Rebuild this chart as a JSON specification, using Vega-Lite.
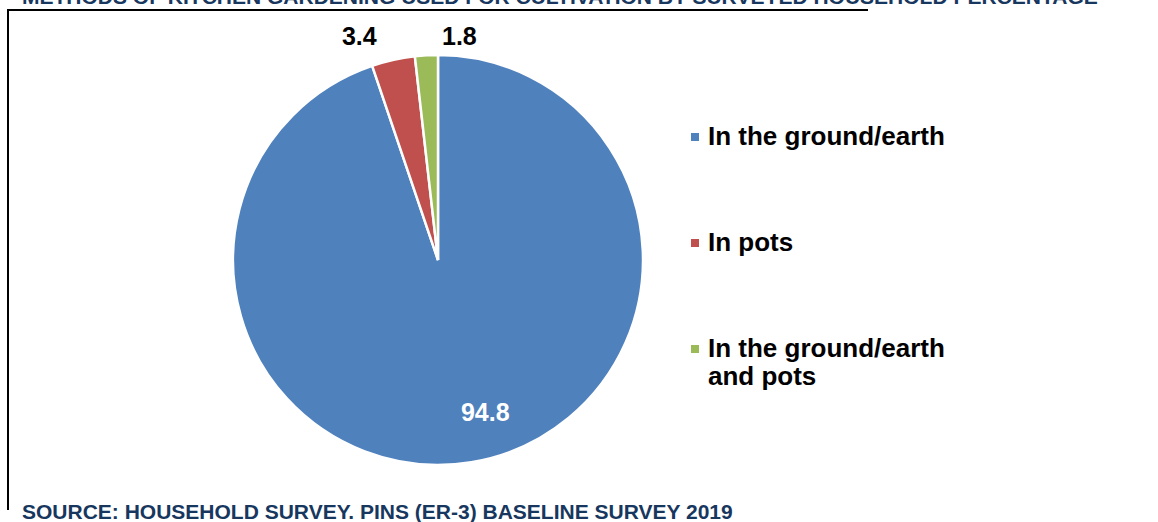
{
  "$schema": "https://vega.github.io/schema/vega-lite/v6.json",
  "width": 860,
  "height": 500,
  "autosize": {"type": "none"},
  "padding": {"left": 8, "top": 10, "right": 290, "bottom": 12},
  "background": "white",
  "view": {"stroke": "black", "strokeWidth": 2, "strokeDash": [860, 1360, 500, 10]},
  "config": {
    "font": "Liberation Sans",
    "view": {"stroke": "black", "strokeWidth": 2, "strokeDash": [860, 1360, 500, 10]}
  },
  "title": {
    "text": ["METHODS OF KITCHEN GARDENING USED FOR CULTIVATION BY SURVEYED HOUSEHOLD PERCENTAGE", "SOURCE: HOUSEHOLD SURVEY.  PINS (ER-3) BASELINE SURVEY 2019"],
    "orient": "top",
    "anchor": "start",
    "frame": "group",
    "dx": 14,
    "offset": -530,
    "baseline": "alphabetic",
    "lineHeight": 515,
    "font": "Liberation Sans",
    "fontSize": 21,
    "fontWeight": "bold",
    "color": "#17375E"
  },
  "data": {
    "values": [
      {"category": "In the ground/earth", "value": 94.8},
      {"category": "In pots", "value": 3.4},
      {"category": "In the ground/earth and pots", "value": 1.8}
    ]
  },
  "layer": [
    {
      "mark": {"type": "arc", "outerRadius": 205, "stroke": "white", "strokeWidth": 2.5},
      "encoding": {
        "theta": {"field": "value", "type": "quantitative", "stack": true},
        "order": {"field": "value", "type": "quantitative", "sort": "descending"},
        "color": {
          "field": "category",
          "type": "nominal",
          "scale": {
            "domain": ["In the ground/earth", "In pots", "In the ground/earth and pots"],
            "range": ["#4F81BD", "#C0504D", "#9BBB59"]
          },
          "legend": {
            "title": null,
            "orient": "none",
            "legendX": 674,
            "legendY": 114,
            "symbolType": "square",
            "symbolSize": 64,
            "symbolStrokeWidth": 0,
            "labelFont": "Liberation Sans",
            "labelFontSize": 26,
            "labelFontWeight": "bold",
            "labelColor": "black",
            "labelLimit": 500,
            "rowPadding": 80,
            "labelOffset": 0,
            "labelExpr": "datum.label === 'In the ground/earth and pots' ? ['In the ground/earth', 'and pots'] : datum.label",
            "encode": {"labels": {"update": {"lineHeight": {"value": 31}}}}
          }
        }
      }
    },
    {
      "mark": {
        "type": "text",
        "fontSize": 25,
        "fontWeight": "bold",
        "font": "Liberation Sans",
        "radius": {"expr": "datum.value > 50 ? 155 : (datum.value > 2 ? 228 : 223)"},
        "dx": {"expr": "datum.value > 50 ? 22 : (datum.value > 2 ? -29 : 34)"}
      },
      "encoding": {
        "theta": {"field": "value", "type": "quantitative", "stack": true},
        "order": {"field": "value", "type": "quantitative", "sort": "descending"},
        "detail": {"field": "category", "type": "nominal"},
        "text": {"field": "value", "type": "quantitative", "format": ".1f"},
        "color": {"condition": {"test": "datum.value > 50", "value": "white"}, "value": "black"}
      }
    }
  ]
}
